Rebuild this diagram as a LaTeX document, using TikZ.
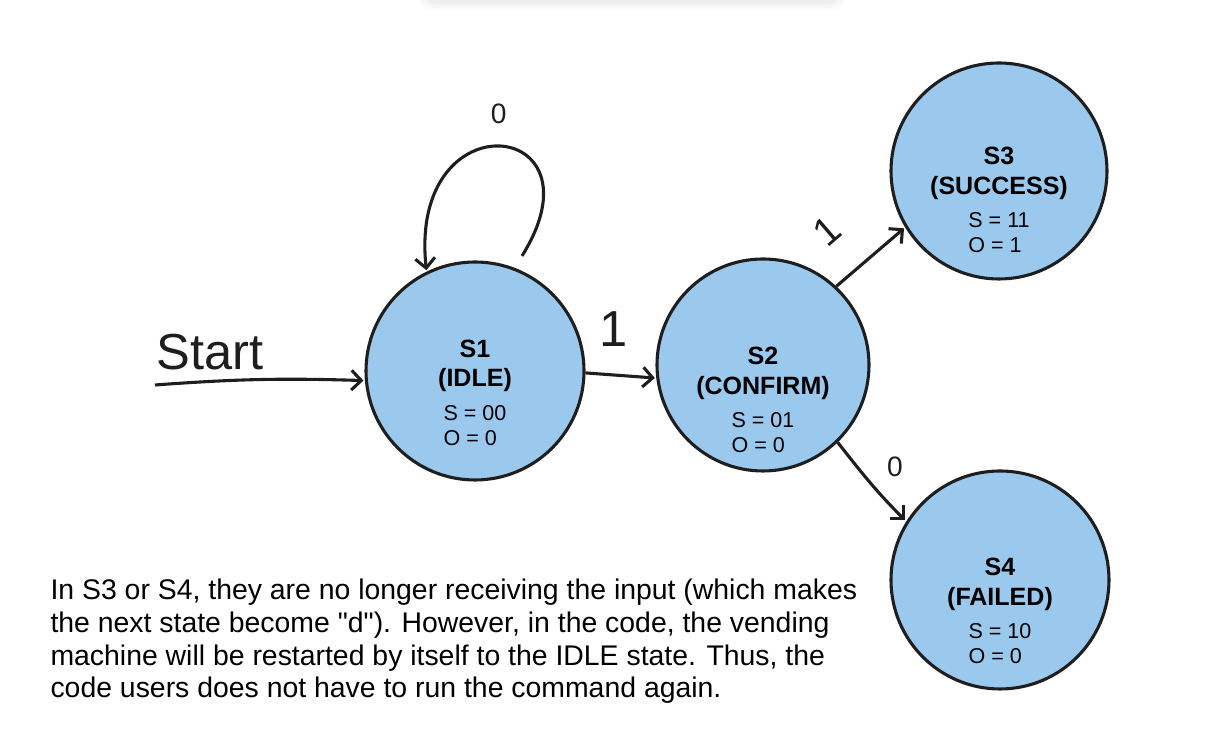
\documentclass[tikz,border=0pt]{standalone}
\usepackage{fontspec}
\setmainfont{Liberation Sans}[Ligatures=TeXOff]
\usetikzlibrary{arrows,arrows.meta,automata,positioning}

\definecolor{stfill}{RGB}{155,201,238}
\definecolor{ink}{RGB}{30,30,30}

\newcommand{\stbold}{\fontsize{17.8}{21.3}\selectfont\bfseries}
\newcommand{\stplain}{\fontsize{15.3}{17.7}\selectfont\mdseries}
% state text, lowered by #1 below the circle centre
\newcommand{\stinfo}[5][25pt]{%
  \raisebox{-#1}[0pt][0pt]{\begin{tabular}{@{}c@{}}
    #2\\
    #3\\[5pt]
    \stplain\begin{tabular}{@{}l@{}}#4\\#5\end{tabular}
  \end{tabular}}}

\begin{document}
\begin{tikzpicture}[->,>={Straight Barb[length=7pt,width=14pt]},shorten >=1pt,auto,line width=2.2pt,draw=ink]
\tikzstyle{every state}=[fill=stfill,draw=ink,text=black,minimum size=5.4cm,inner sep=0pt,font=\stbold]
\tikzstyle{lbl}=[font=\fontsize{20}{24}\selectfont,inner sep=2pt,text=ink]

\useasboundingbox (0,0) rectangle (30.325,18.775);
% faint shadow at the top edge
\foreach \d/\o in {0.2/0.012,0.14/0.015,0.08/0.018,0.03/0.02}
  \fill[-,black,opacity=\o,rounded corners=0.25cm] (10.675-\d,18.72-\d) rectangle (20.925+\d,19.3);

\node[state,minimum size=5.45cm] (s1) at (11.875,9.5)   {\stinfo[21pt]{S1}{(IDLE)}{S = 00}{O = 0}};
\node[state,minimum size=5.3cm]  (s2) at (19.075,9.65)  {\stinfo[30.5pt]{S2}{(CONFIRM)}{S = 01}{O = 0}};
\node[state]                     (s3) at (24.975,14.5)  {\stinfo[26pt]{S3}{(SUCCESS)}{S = 11}{O = 1}};
\node[state,minimum size=5.45cm] (s4) at (25,4.275)     {\stinfo[27.5pt]{S4}{(FAILED)}{S = 10}{O = 0}};

\coordinate (start) at (3.875,9.15);
\node[font=\fontsize{36}{40}\selectfont,text=ink] (startlbl) at (5.25,9.975) {Start};

\path (start) edge [bend left=3] (s1.185)
(s1.69) edge [out=58,in=96,distance=4.4cm,shorten <=0.35cm] node[lbl,above=0.5cm] {0} (s1.116)
(s1.-1) edge node[lbl,font=\fontsize{36}{40}\selectfont,pos=0.4,above=0.6cm] {1} (s2.187)
(s2.47) edge node[lbl,font=\fontsize{28}{30}\selectfont,sloped,pos=0.32,above=0.75cm] {1} (s3.211)
(s2.-46) edge [out=-52,in=135] node[lbl,pos=0.28,right=0.65cm] {0} (s4.148);

\node[anchor=north west,align=left,inner sep=0pt,text=black,font=\fontsize{20.2}{23.2}\selectfont] (note) at (1.225,4.33)
  {In S3 or S4, they are no longer receiving the input (which makes\\
   the next state become "d"). However, in the code, the vending\\
   machine will be restarted by itself to the IDLE state. Thus, the\\
   code users does not have to run the command again.};
\end{tikzpicture}
\end{document}
